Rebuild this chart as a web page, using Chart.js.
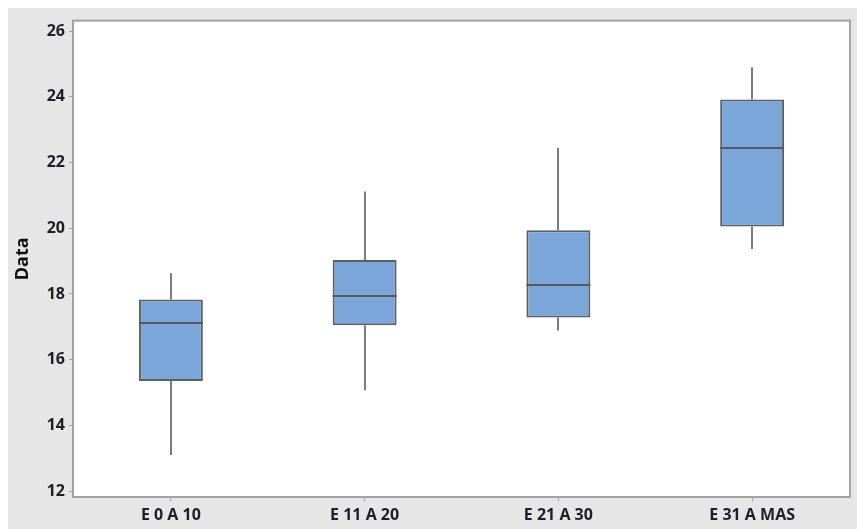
<!DOCTYPE html>
<html>
<head>
<meta charset="utf-8">
<script src="https://cdn.jsdelivr.net/npm/chart.js@4/dist/chart.umd.min.js"></script>
<style>
  html, body { margin: 0; padding: 0; background: #ffffff; }
  #panel { position: absolute; left: 8px; top: 8px; width: 849px; height: 521px; background: #e6e6e6; }
  canvas { display: block; }
</style>
</head>
<body>
<div id="panel"><canvas id="chart" width="849" height="521"></canvas></div>
<script>
// Age groups and the five-number summary of each box
const categories = ['E 0 A 10', 'E 11 A 20', 'E 21 A 30', 'E 31 A MAS'];
const whiskerLow = [13.1, 15.07, 16.89, 19.37];
const q1 = [15.35, 17.05, 17.28, 20.05];
const median = [17.12, 17.95, 18.27, 22.45];
const q3 = [17.83, 19.03, 19.94, 23.92];
const whiskerHigh = [18.63, 21.12, 22.45, 24.9];
const tickValues = [12, 14, 16, 18, 20, 22, 24, 26];

const boxData = categories.map((c, i) => [q1[i], q3[i]]);

const fontFamily = '"Open Sans", "DejaVu Sans", sans-serif';

// Whiskers, medians and the plot frame, drawn through the chart's scales
const boxPlotParts = {
  id: 'boxPlotParts',
  beforeDatasetsDraw(chart) {
    const ctx = chart.ctx;
    const y = chart.scales.y;
    const meta = chart.getDatasetMeta(0);
    ctx.save();
    ctx.strokeStyle = '#7c7c7c';
    ctx.lineWidth = 2;
    meta.data.forEach((bar, i) => {
      const x = Math.round(bar.x);
      ctx.beginPath();
      ctx.moveTo(x, y.getPixelForValue(whiskerLow[i]));
      ctx.lineTo(x, y.getPixelForValue(q1[i]));
      ctx.moveTo(x, y.getPixelForValue(q3[i]));
      ctx.lineTo(x, y.getPixelForValue(whiskerHigh[i]));
      ctx.stroke();
    });
    ctx.restore();
  },
  afterDatasetsDraw(chart) {
    const ctx = chart.ctx;
    const y = chart.scales.y;
    const meta = chart.getDatasetMeta(0);
    ctx.save();
    ctx.strokeStyle = '#555a60';
    ctx.lineWidth = 2;
    meta.data.forEach((bar, i) => {
      const half = bar.width / 2;
      const py = Math.round(y.getPixelForValue(median[i]));
      ctx.beginPath();
      ctx.moveTo(bar.x - half, py);
      ctx.lineTo(bar.x + half, py);
      ctx.stroke();
    });
    const a = chart.chartArea;
    ctx.strokeStyle = '#a3a3a3';
    ctx.lineWidth = 2;
    ctx.strokeRect(a.left - 1, a.top - 1, a.right - a.left + 2, a.bottom - a.top + 2);
    ctx.restore();
  }
};

const plotBackground = {
  id: 'plotBackground',
  beforeDraw(chart) {
    const a = chart.chartArea;
    const ctx = chart.ctx;
    ctx.save();
    ctx.fillStyle = '#ffffff';
    ctx.fillRect(a.left, a.top, a.right - a.left, a.bottom - a.top);
    ctx.restore();
  }
};

new Chart(document.getElementById('chart'), {
  type: 'bar',
  data: {
    labels: categories,
    datasets: [{
      data: boxData,
      backgroundColor: '#7ba6d9',
      borderColor: '#5c5f63',
      borderWidth: 2,
      borderSkipped: false,
      categoryPercentage: 1,
      barPercentage: 0.33
    }]
  },
  options: {
    responsive: false,
    devicePixelRatio: 1,
    animation: false,
    layout: { padding: { left: 4, top: 12, right: 8, bottom: 0 } },
    plugins: { legend: { display: false }, tooltip: { enabled: false } },
    scales: {
      x: {
        offset: true,
        border: { display: false },
        grid: { offset: false, drawOnChartArea: false, drawTicks: true, tickLength: 5, color: '#a3a3a3', lineWidth: 1 },
        ticks: { color: '#1e1e24', padding: 5, font: { family: fontFamily, size: 16, weight: 'bold' } },
        afterFit(scale) { scale.height = 33; }
      },
      y: {
        min: 11.85,
        max: 26.29,
        border: { display: false },
        grid: { drawOnChartArea: false, drawTicks: true, tickLength: 5, color: '#a3a3a3', lineWidth: 1 },
        ticks: { color: '#1e1e24', padding: 4, font: { family: fontFamily, size: 16, weight: 'bold' } },
        afterBuildTicks(scale) { scale.ticks = tickValues.map(v => ({ value: v })); },
        title: {
          display: true,
          text: 'Data',
          color: '#111111',
          padding: { top: 0, bottom: 0 },
          font: { family: fontFamily, size: 18, weight: 'bold' }
        },
        afterFit(scale) { scale.width = 62; }
      }
    }
  },
  plugins: [plotBackground, boxPlotParts]
});
</script>
</body>
</html>
